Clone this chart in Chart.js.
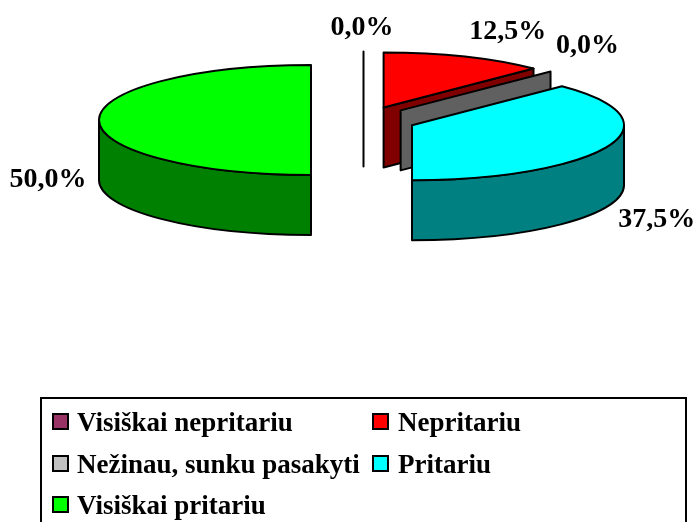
<!DOCTYPE html>
<html>
<head>
<meta charset="utf-8">
<style>
  html, body { margin: 0; padding: 0; background: #fff; overflow: hidden; }
  canvas { display: block; }
</style>
<script src="https://cdn.jsdelivr.net/npm/chart.js@4/dist/chart.umd.min.js"></script>
</head>
<body>
<canvas id="chart" width="698" height="522"></canvas>
<script>
// Data
const categories = ["Visiškai nepritariu", "Nepritariu", "Nežinau, sunku pasakyti", "Pritariu", "Visiškai pritariu"];
const shares = [0, 12.5, 0, 37.5, 50];
const topColors = ["#993366", "#ff0000", "#c0c0c0", "#00ffff", "#00ff00"];
const wallColors = ["#4d1933", "#800000", "#606060", "#008080", "#008000"];

// 3D look of the pie
const squash = 55 / 212;
const depth = 60;
const explode = 52.5;
const FONT = '"Liberation Serif", "Times New Roman", serif';

// label shift from the rim point of each slice
const labelShift = [[-1.5, -24], [43, -25], [37, -26], [49, 74], [-51, 60]];

function pct(v){ return v.toFixed(1).replace(".", ",") + "%"; }

const pie3d = {
  id: "pie3d",
  beforeDatasetsDraw(chart) {
    const ctx = chart.ctx;
    const arcs = chart.getDatasetMeta(0).data;
    ctx.save();
    ctx.strokeStyle = "#000";
    ctx.lineWidth = 2;
    ctx.lineJoin = "round";

    arcs.forEach(function(arc, i){
      const R = arc.outerRadius, a0 = arc.startAngle, a1 = arc.endAngle;
      const mid = (a0 + a1) / 2;
      const cx = arc.x + Math.cos(mid) * explode;
      const cy = arc.y + Math.sin(mid) * explode * squash;
      const ry = R * squash;
      const zero = shares[i] === 0;

      function wall(a){
        const ex = cx + Math.cos(a) * R, ey = cy + Math.sin(a) * ry;
        ctx.beginPath();
        ctx.moveTo(cx, cy);
        ctx.lineTo(ex, ey);
        ctx.lineTo(ex, ey + depth);
        ctx.lineTo(cx, cy + depth);
        ctx.closePath();
        ctx.fillStyle = wallColors[i];
        ctx.fill();
        ctx.stroke();
      }

      // side faces that look at us
      if (zero || Math.cos(a1) > 1e-6) wall(a1);
      if (!zero && Math.cos(a0) < -1e-6) wall(a0);

      // outer rim, only the front half of the ellipse
      const from = Math.max(a0, 0), to = Math.min(a1, Math.PI);
      if (!zero && to > from) {
        ctx.beginPath();
        ctx.ellipse(cx, cy, R, ry, 0, from, to);
        ctx.lineTo(cx + Math.cos(to) * R, cy + Math.sin(to) * ry + depth);
        ctx.ellipse(cx, cy + depth, R, ry, 0, to, from, true);
        ctx.closePath();
        ctx.fillStyle = wallColors[i];
        ctx.fill();
        ctx.stroke();
      }

      // top face
      if (!zero) {
        ctx.beginPath();
        ctx.moveTo(cx, cy);
        ctx.ellipse(cx, cy, R, ry, 0, a0, a1);
        ctx.closePath();
        ctx.fillStyle = topColors[i];
        ctx.fill();
        ctx.stroke();
      }
    });

    // percent labels
    ctx.fillStyle = "#000";
    ctx.font = "bold 28px " + FONT;
    ctx.textAlign = "center";
    ctx.textBaseline = "middle";
    arcs.forEach(function(arc, i){
      const mid = (arc.startAngle + arc.endAngle) / 2;
      const x = arc.x + Math.cos(mid) * (arc.outerRadius + explode) + labelShift[i][0];
      const y = arc.y + Math.sin(mid) * (arc.outerRadius + explode) * squash + labelShift[i][1];
      ctx.fillText(pct(shares[i]), x, y);
    });
    ctx.restore();
    return false; // faces are drawn above, skip the flat arcs
  },
  afterDraw(chart) {
    const ctx = chart.ctx;
    ctx.save();
    // legend frame runs off the bottom of the picture
    ctx.strokeStyle = "#000";
    ctx.lineWidth = 2;
    ctx.strokeRect(41, 398, 645, 140);

    const cols = [53, 373], rows = [431, 473, 514];
    ctx.font = "bold 27px " + FONT;
    ctx.textAlign = "left";
    ctx.textBaseline = "alphabetic";
    categories.forEach(function(name, i){
      const x = cols[i % 2], y = rows[Math.floor(i / 2)];
      ctx.fillStyle = topColors[i];
      ctx.fillRect(x, y - 17, 15, 15);
      ctx.strokeRect(x, y - 17, 15, 15);
      ctx.fillStyle = "#000";
      ctx.fillText(name, x + (i % 2 ? 25 : 24), y);
    });
    ctx.restore();
  }
};

new Chart(document.getElementById("chart"), {
  type: "pie",
  data: {
    labels: categories,
    datasets: [{ data: shares, backgroundColor: topColors, radius: 212 }]
  },
  options: {
    responsive: false,
    animation: false,
    layout: { padding: { left: 29, bottom: 282 } },
    plugins: { legend: { display: false }, tooltip: { enabled: false } }
  },
  plugins: [pie3d]
});
</script>
</body>
</html>
